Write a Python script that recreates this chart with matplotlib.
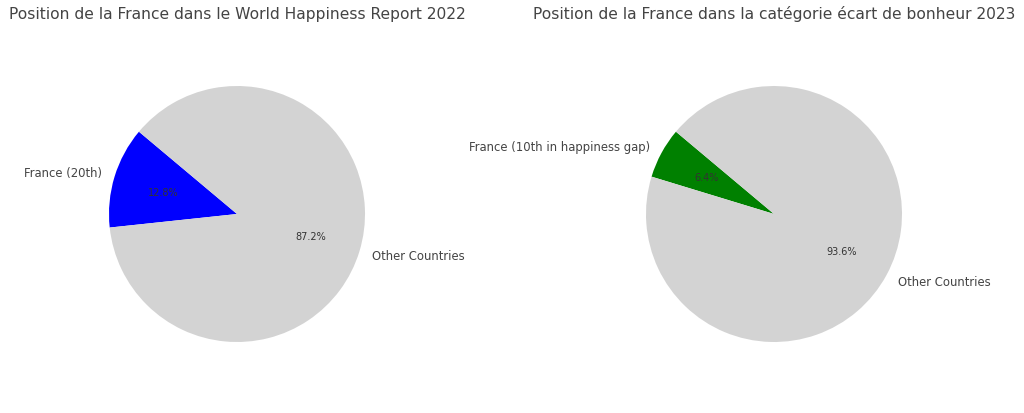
import matplotlib
matplotlib.use('Agg')
import matplotlib.pyplot as plt

labels_2022 = ['France (20th)', 'Other Countries']
sizes_2022 = [12.8, 87.2]
colors_2022 = ['blue', 'lightgrey']

labels_2023 = ['France (10th in happiness gap)', 'Other Countries']
sizes_2023 = [6.4, 93.6]
colors_2023 = ['green', 'lightgrey']

titles = ['Position de la France dans le World Happiness Report 2022',
          'Position de la France dans la catégorie écart de bonheur 2023']

plt.rcParams['text.color'] = '#444444'

fig = plt.figure(figsize=(10.24, 4.14), dpi=100)
ax1 = fig.add_axes([77 / 1024, 39 / 414, 320 / 1024, 320 / 414])
ax2 = fig.add_axes([614 / 1024, 39 / 414, 320 / 1024, 320 / 414])

for ax, sizes, labels, colors, title in [
        (ax1, sizes_2022, labels_2022, colors_2022, titles[0]),
        (ax2, sizes_2023, labels_2023, colors_2023, titles[1])]:
    wedges, texts, autotexts = ax.pie(sizes, labels=labels, colors=colors,
                                      autopct='%1.1f%%', startangle=140,
                                      textprops={'fontsize': 8.4})
    for t in autotexts:
        t.set_fontsize(7)
        t.set_color('#333333')
    ax.set_title(title, fontsize=11.2, pad=26)
    ax.set_xlim(-1.25, 1.25)
    ax.set_ylim(-1.25, 1.25)

fig.savefig('out.png', dpi=100)
